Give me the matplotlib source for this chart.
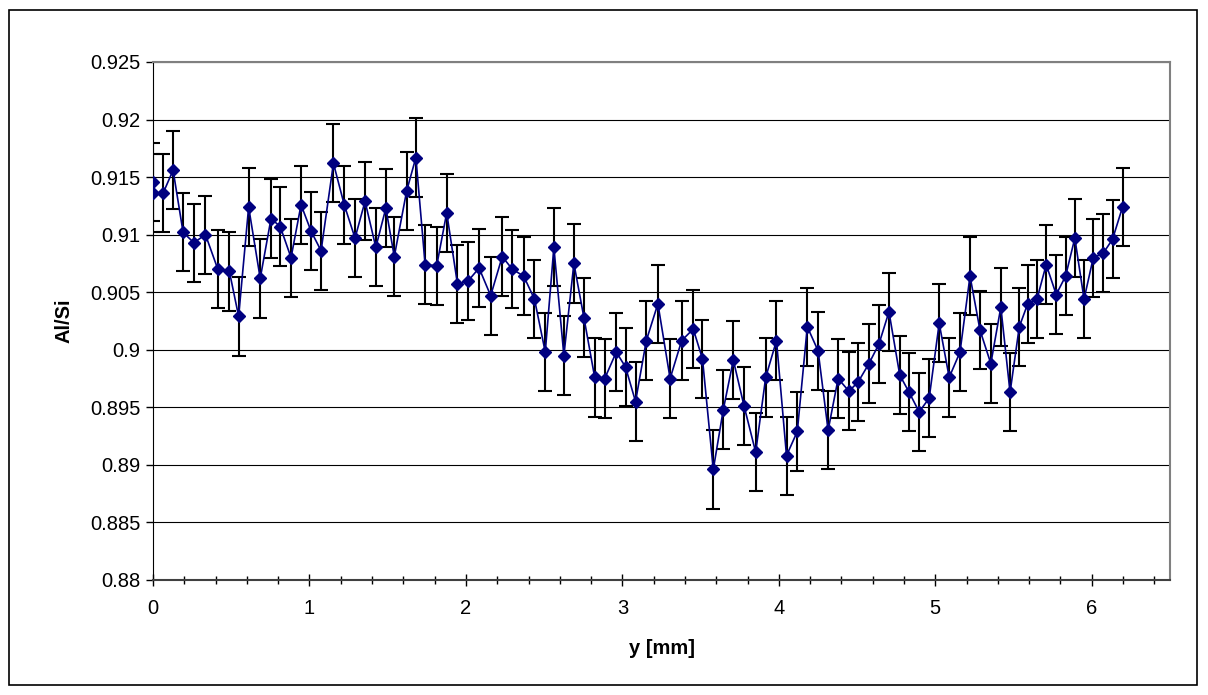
import numpy as np
import matplotlib.pyplot as plt
from matplotlib.ticker import MultipleLocator, FuncFormatter
from matplotlib.patches import Rectangle

"""
Al/Si ratio measured along the sample (y position in mm)
"""
y_mm = [0.000, 0.000, 0.064, 0.128, 0.192, 0.261, 0.335, 0.414, 0.488, 0.547,
        0.611, 0.685, 0.754, 0.813, 0.882, 0.946, 1.010, 1.074, 1.153, 1.222,
        1.291, 1.355, 1.424, 1.488, 1.542, 1.621, 1.680, 1.739, 1.813, 1.877,
        1.946, 2.015, 2.084, 2.158, 2.232, 2.296, 2.369, 2.438, 2.507, 2.562,
        2.626, 2.690, 2.754, 2.823, 2.887, 2.961, 3.020, 3.084, 3.153, 3.227,
        3.305, 3.379, 3.453, 3.512, 3.581, 3.645, 3.709, 3.778, 3.852, 3.916,
        3.985, 4.049, 4.118, 4.182, 4.251, 4.315, 4.379, 4.448, 4.507, 4.576,
        4.640, 4.704, 4.773, 4.833, 4.897, 4.961, 5.025, 5.089, 5.158, 5.222,
        5.286, 5.355, 5.419, 5.478, 5.537, 5.591, 5.650, 5.709, 5.773, 5.833,
        5.892, 5.951, 6.010, 6.074, 6.133, 6.197]

al_si = [0.9146, 0.9136, 0.9136, 0.9156, 0.9102, 0.9093, 0.9100, 0.9070, 0.9068, 0.9029,
         0.9124, 0.9062, 0.9114, 0.9107, 0.9080, 0.9126, 0.9103, 0.9086, 0.9162, 0.9126,
         0.9097, 0.9129, 0.9089, 0.9123, 0.9081, 0.9138, 0.9167, 0.9074, 0.9073, 0.9119,
         0.9057, 0.9060, 0.9071, 0.9047, 0.9081, 0.9070, 0.9064, 0.9044, 0.8998, 0.9089,
         0.8995, 0.9075, 0.9028, 0.8976, 0.8975, 0.8998, 0.8985, 0.8955, 0.9008, 0.9040,
         0.8975, 0.9008, 0.9018, 0.8992, 0.8896, 0.8948, 0.8991, 0.8951, 0.8911, 0.8976,
         0.9008, 0.8908, 0.8929, 0.9020, 0.8999, 0.8930, 0.8975, 0.8964, 0.8972, 0.8988,
         0.9005, 0.9033, 0.8978, 0.8963, 0.8946, 0.8958, 0.9023, 0.8976, 0.8998, 0.9064,
         0.9017, 0.8988, 0.9037, 0.8963, 0.9020, 0.9040, 0.9044, 0.9074, 0.9048, 0.9064,
         0.9097, 0.9044, 0.9080, 0.9084, 0.9096, 0.9124]

# same error on every point
err = 0.0034

y_ticks = [0.88, 0.885, 0.89, 0.895, 0.9, 0.905, 0.91, 0.915, 0.92, 0.925]
x_ticks = [0, 1, 2, 3, 4, 5, 6]

plt.rcParams['font.family'] = ['Liberation Sans', 'DejaVu Sans']

fig = plt.figure(figsize=(12.08, 6.95), dpi=100)
ax = fig.add_axes([0.1267, 0.1655, 0.8418, 0.7453])

# error bars first, then the line with diamonds on top
ax.errorbar(y_mm, al_si, yerr=err, fmt='none', ecolor='black', elinewidth=1.5,
            capsize=5, capthick=1.5, zorder=2)
ax.plot(y_mm, al_si, color='#000080', linewidth=1.2, marker='D', markersize=6.5,
        markerfacecolor='#000080', markeredgecolor='#000080', zorder=3)

ax.set_xlim(0, 6.5)
ax.set_ylim(0.88, 0.925)
ax.set_yticks(y_ticks)
ax.set_xticks(x_ticks)
ax.xaxis.set_minor_locator(MultipleLocator(0.2))
ax.yaxis.set_major_formatter(FuncFormatter(lambda v, p: '%g' % round(v, 3)))

ax.tick_params(axis='y', direction='out', length=5, width=1, labelsize=14.5, pad=4)
ax.tick_params(axis='x', which='major', direction='inout', length=9, width=1, labelsize=14.5, pad=9)
ax.tick_params(axis='x', which='minor', direction='inout', length=6, width=1)

ax.grid(axis='y', color='black', linewidth=0.8)
ax.set_axisbelow(True)

for side in ['top', 'right']:
    ax.spines[side].set_color('#808080')
    ax.spines[side].set_linewidth(1.5)
ax.spines['left'].set_color('black')
ax.spines['bottom'].set_color('#404040')
ax.spines['bottom'].set_linewidth(1.5)

ax.set_xlabel('y [mm]', fontsize=14.5, fontweight='bold', labelpad=15)
ax.set_ylabel('Al/Si', fontsize=14.5, fontweight='bold', labelpad=12)

# frame round the whole chart
fig.patches.append(Rectangle((9 / 1208, 10 / 695), 1188 / 1208, 675 / 695, transform=fig.transFigure,
                             fill=False, edgecolor='black', linewidth=1.2))

fig.savefig('out.png', dpi=100)
